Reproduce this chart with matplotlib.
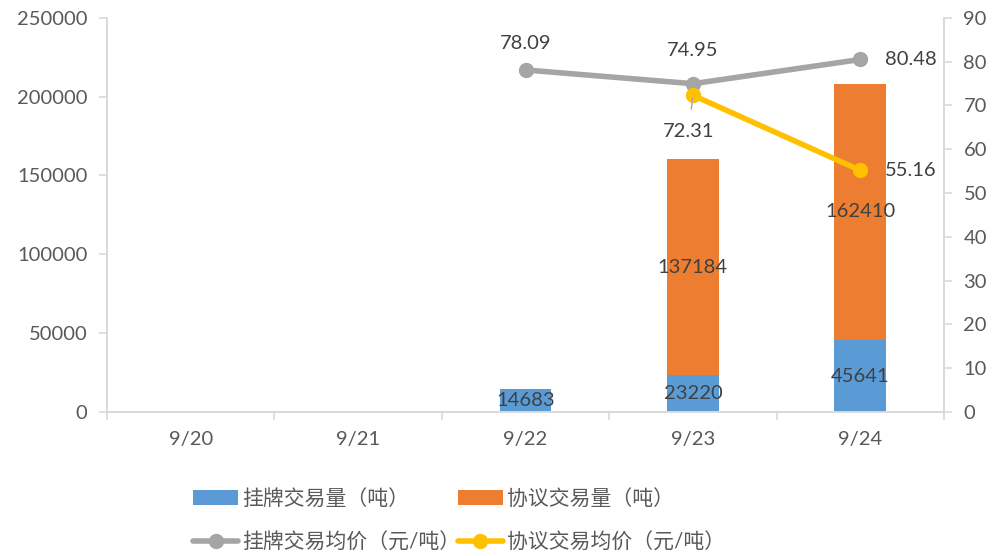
import numpy as np
import matplotlib
matplotlib.use("Agg")
import matplotlib.pyplot as plt
from matplotlib.ticker import FixedLocator

plt.rcParams['font.family'] = ['Lato', 'Noto Sans CJK SC', 'DejaVu Sans']

dates = ['9/20', '9/21', '9/22', '9/23', '9/24']
listed_vol = [np.nan, np.nan, 14683, 23220, 45641]
negot_vol = [np.nan, np.nan, np.nan, 137184, 162410]
listed_price = [np.nan, np.nan, 78.09, 74.95, 80.48]
negot_price = [np.nan, np.nan, np.nan, 72.31, 55.16]

names = ['挂牌交易量（吨）', '协议交易量（吨）', '挂牌交易均价（元/吨）', '协议交易均价（元/吨）']
c_blue, c_orange, c_gray, c_yellow = '#5B9BD5', '#ED7D31', '#A5A5A5', '#FFC000'
txt = '#404040'
tick_c = '#595959'
spine_c = '#D9D9D9'

fig = plt.figure(figsize=(10, 5.56), dpi=100)
ax = fig.add_axes([0.107, 0.259, 0.837, 0.709])
ax2 = ax.twinx()

x = np.arange(len(dates))
lv = np.array(listed_vol, dtype=float)
nv = np.array(negot_vol, dtype=float)
bw = 0.31
b1 = ax.bar(x, np.nan_to_num(lv), bw, color=c_blue, label=names[0])
b2 = ax.bar(x, np.nan_to_num(nv), bw, bottom=np.nan_to_num(lv), color=c_orange, label=names[1])

for i in range(len(x)):
    if not np.isnan(lv[i]):
        ax.text(x[i], lv[i] / 2, f'{int(lv[i])}', ha='center', va='center', fontsize=14.5, color=txt)
    if not np.isnan(nv[i]):
        ax.text(x[i], lv[i] + nv[i] / 2, f'{int(nv[i])}', ha='center', va='center', fontsize=14.5, color=txt)

l1, = ax2.plot(x, listed_price, color=c_gray, lw=4, marker='o', ms=10, label=names[2], solid_capstyle='round')
l2, = ax2.plot(x, negot_price, color=c_yellow, lw=4, marker='o', ms=10, label=names[3], solid_capstyle='round')

# line labels
lp_off = {2: (0, 19, 'center'), 3: (0, 24, 'center'), 4: (18, 0, 'left')}
for i, (dx, dy, ha) in lp_off.items():
    ax2.annotate(f'{listed_price[i]:.2f}', (x[i], listed_price[i]), xytext=(dx, dy),
                 textcoords='offset points', ha=ha, va='center', fontsize=14.5, color=txt)
ax2.annotate(f'{negot_price[3]:.2f}', (x[3], negot_price[3]), xytext=(-3, -26),
             textcoords='offset points', ha='center', va='center', fontsize=14.5, color=txt,
             arrowprops=dict(arrowstyle='-', color=c_gray, lw=1, shrinkA=8, shrinkB=2))
ax2.annotate(f'{negot_price[4]:.2f}', (x[4], negot_price[4]), xytext=(18, 0),
             textcoords='offset points', ha='left', va='center', fontsize=14.5, color=txt)

ax.set_xlim(-0.5, 4.5)
ax.set_ylim(0, 250000)
ax2.set_ylim(0, 90)
ax.set_yticks(np.arange(0, 250001, 50000))
ax2.set_yticks(np.arange(0, 91, 10))
ax.set_xticks(x)
ax.set_xticklabels(dates)
ax.xaxis.set_minor_locator(FixedLocator(np.arange(-0.5, 4.6, 1)))
ax.tick_params(axis='x', which='major', length=0, pad=14, labelsize=14.5, labelcolor=tick_c)
ax.tick_params(axis='x', which='minor', length=6, color=spine_c, width=1.2)
ax.tick_params(axis='y', length=6, color=spine_c, width=1.2, labelsize=14.5, labelcolor=tick_c, pad=8)
ax2.tick_params(axis='y', length=6, color=spine_c, width=1.2, labelsize=14.5, labelcolor=tick_c, pad=8)

for a in (ax, ax2):
    a.spines['top'].set_visible(False)
    for s in ('left', 'right', 'bottom'):
        a.spines[s].set_color(spine_c)
        a.spines[s].set_linewidth(1.2)

handles = [b1, l1, b2, l2]
labels = [names[0], names[2], names[1], names[3]]
leg = fig.legend(handles, labels, ncol=2, loc='upper left', bbox_to_anchor=(0.183, 0.14),
                 frameon=False, fontsize=15, labelcolor=tick_c, handlelength=2.15,
                 handletextpad=0.2, columnspacing=-0.12, labelspacing=1.15, borderpad=0)

fig.savefig('out.png', dpi=100)
